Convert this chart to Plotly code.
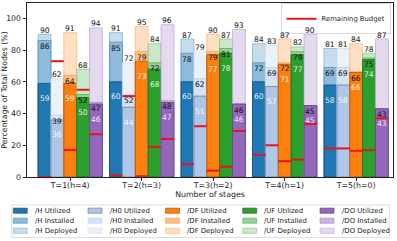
import plotly.graph_objects as go

# ---------------- data ----------------
groups = ["T=1(h=4)", "T=2(h=3)", "T=3(h=2)", "T=4(h=1)", "T=5(h=0)"]
series = ["/H", "/H0", "/DF", "/UF", "/DO"]

h_utilized = [59, 60, 60, 60, 58]
h_installed = [86, 85, 78, 72, 69]
h_deployed = [90, 91, 87, 84, 81]
h_budget = [0, 1, 8, 14, 18]

h0_utilized = [36, 44, 51, 57, 58]
h0_installed = [39, 52, 62, 69, 69]
h0_deployed = [62, 72, 79, 83, 81]
h0_budget = [73, 51, 32, 20, 18]

df_utilized = [59, 73, 77, 71, 66]
df_installed = [64, 79, 79, 72, 66]
df_deployed = [91, 95, 90, 87, 84]
df_budget = [17, 0.5, 4, 10, 16.5]

uf_utilized = [50, 68, 78, 77, 74]
uf_installed = [52, 72, 81, 79, 75]
uf_deployed = [68, 84, 87, 82, 78]
uf_budget = [55, 19, 6.5, 11, 17]

do_utilized = [46, 47, 46, 45, 43]
do_installed = [47, 48, 46, 45, 43]
do_deployed = [94, 96, 93, 90, 87]
do_budget = [27, 24, 29, 33.5, 37]

utilized = dict(zip(series, [h_utilized, h0_utilized, df_utilized, uf_utilized, do_utilized]))
installed = dict(zip(series, [h_installed, h0_installed, df_installed, uf_installed, do_installed]))
deployed = dict(zip(series, [h_deployed, h0_deployed, df_deployed, uf_deployed, do_deployed]))
budget = dict(zip(series, [h_budget, h0_budget, df_budget, uf_budget, do_budget]))

# ---------------- style ----------------
FONT = "DejaVu Sans"
base_rgb = {
    "/H": (31, 119, 180),
    "/H0": (174, 199, 232),
    "/DF": (255, 127, 14),
    "/UF": (44, 160, 44),
    "/DO": (148, 103, 189),
}
layer_alpha = {"Deployed": 0.25, "Installed": 0.5, "Utilized": 1.0}


def blend(rgb, a):
    return "rgb(%d,%d,%d)" % tuple(round(255 - a * (255 - c)) for c in rgb)


def edge(rgb, a):
    f = 0.62 if a >= 1 else 1.0
    aa = min(1.0, a + 0.3)
    return "rgb(%d,%d,%d)" % tuple(round((255 - aa * (255 - c)) * f) for c in rgb)


W = 0.18
n_groups = len(groups)
xs = list(range(n_groups))

fig = go.Figure()
annotations = []
layers = [("Deployed", deployed), ("Installed", installed), ("Utilized", utilized)]

for k, s in enumerate(series):
    off = -0.45 + k * W
    for layer, data in layers:
        a = layer_alpha[layer]
        fig.add_trace(go.Bar(
            x=xs, y=data[s], offset=off, width=W,
            name=f"{s} {layer}",
            marker=dict(color=blend(base_rgb[s], a),
                        line=dict(color=edge(base_rgb[s], a), width=0.8)),
            showlegend=False,
        ))
    for i in xs:
        cx = i + off + W / 2
        annotations.append(dict(x=cx, y=deployed[s][i], xref="x", yref="y", text=str(deployed[s][i]),
                                showarrow=False, yanchor="middle", yshift=4,
                                font=dict(family=FONT, size=7.6, color="#111")))
        annotations.append(dict(x=cx, y=installed[s][i], xref="x", yref="y", text=str(installed[s][i]),
                                showarrow=False, yanchor="middle", yshift=-6,
                                font=dict(family=FONT, size=7.6, color="#111")))
        annotations.append(dict(x=cx, y=utilized[s][i], xref="x", yref="y", text=str(utilized[s][i]),
                                showarrow=False, yanchor="middle", yshift=-15,
                                font=dict(family=FONT, size=7.6, color="rgba(255,255,255,0.9)")))

# remaining budget lines
bx, by = [], []
for k, s in enumerate(series):
    off = -0.45 + k * W
    for i in xs:
        bx += [i + off, i + off + W, None]
        by += [budget[s][i], budget[s][i], None]
fig.add_trace(go.Scatter(x=bx, y=by, mode="lines", name="Remaining Budget",
                         line=dict(color="#e8141c", width=2), showlegend=True))

# ---------------- layout ----------------
ML, MR, MT, MB = 27, 4, 3, 64
FW, FH = 397, 241
PW, PH = FW - ML - MR, FH - MT - MB


def px2x(px):
    return (px - ML) / PW


def py2y(py):
    return (FH - MB - py) / PH


shapes = []
# manual bottom legend
shapes.append(dict(type="rect", xref="paper", yref="paper",
                   x0=px2x(11.7), x1=px2x(389.3), y0=py2y(237.5), y1=py2y(205),
                   line=dict(color="#d6d6d6", width=0.8), fillcolor="white", layer="above"))
col_left = [13.3, 88.0, 165.5, 242.7, 320.0]
row_y = [210.7, 220.7, 230.7]
row_layers = ["Utilized", "Installed", "Deployed"]
for k, s in enumerate(series):
    for r, layer in enumerate(row_layers):
        a = layer_alpha[layer]
        x0 = col_left[k]
        yc = row_y[r]
        shapes.append(dict(type="rect", xref="paper", yref="paper",
                           x0=px2x(x0), x1=px2x(x0 + 14), y0=py2y(yc + 2.6), y1=py2y(yc - 2.6),
                           fillcolor=blend(base_rgb[s], a),
                           line=dict(color=edge(base_rgb[s], a), width=0.6), layer="above"))
        annotations.append(dict(x=px2x(x0 + 19.5), y=py2y(yc), xref="paper", yref="paper",
                                text=f"{s} {layer}", showarrow=False, xanchor="left", yanchor="middle",
                                font=dict(family=FONT, size=6.9, color="#222")))

axis_common = dict(
    ticks="outside", ticklen=3.5, tickwidth=0.8, tickcolor="#222",
    showline=True, linecolor="#222", linewidth=0.8, mirror=True,
    showgrid=False, zeroline=False, automargin=False,
    tickfont=dict(family=FONT, size=7.8, color="#222"),
)

fig.update_layout(
    width=FW, height=FH,
    margin=dict(l=ML, r=MR, t=MT, b=MB, pad=0),
    template="none",
    barmode="overlay",
    plot_bgcolor="white", paper_bgcolor="white",
    font=dict(family=FONT, size=7.8, color="#222"),
    xaxis=dict(range=[-0.605, 4.515], tickmode="array", tickvals=xs, ticktext=groups,
               ticklabelstandoff=-3,
               title=dict(text="Number of stages", font=dict(family=FONT, size=7.8), standoff=2),
               **axis_common),
    yaxis=dict(range=[0, 109.7], tickmode="array", tickvals=[0, 20, 40, 60, 80, 100],
               title=dict(text="Percentage of Total Nodes (%)", font=dict(family=FONT, size=7.8), standoff=2),
               **axis_common),
    legend=dict(x=0.994, y=0.998, xanchor="right", yanchor="top",
                font=dict(family=FONT, size=6.8, color="#222"),
                bgcolor="rgba(255,255,255,0.85)", bordercolor="#d0d0d0", borderwidth=0.8,
                itemwidth=30, tracegroupgap=0),
    shapes=shapes,
    annotations=annotations,
    showlegend=True,
)

fig.write_html("out.html", config={"displayModeBar": False},
               post_script="document.body.style.margin='0';document.body.style.padding='0';")
